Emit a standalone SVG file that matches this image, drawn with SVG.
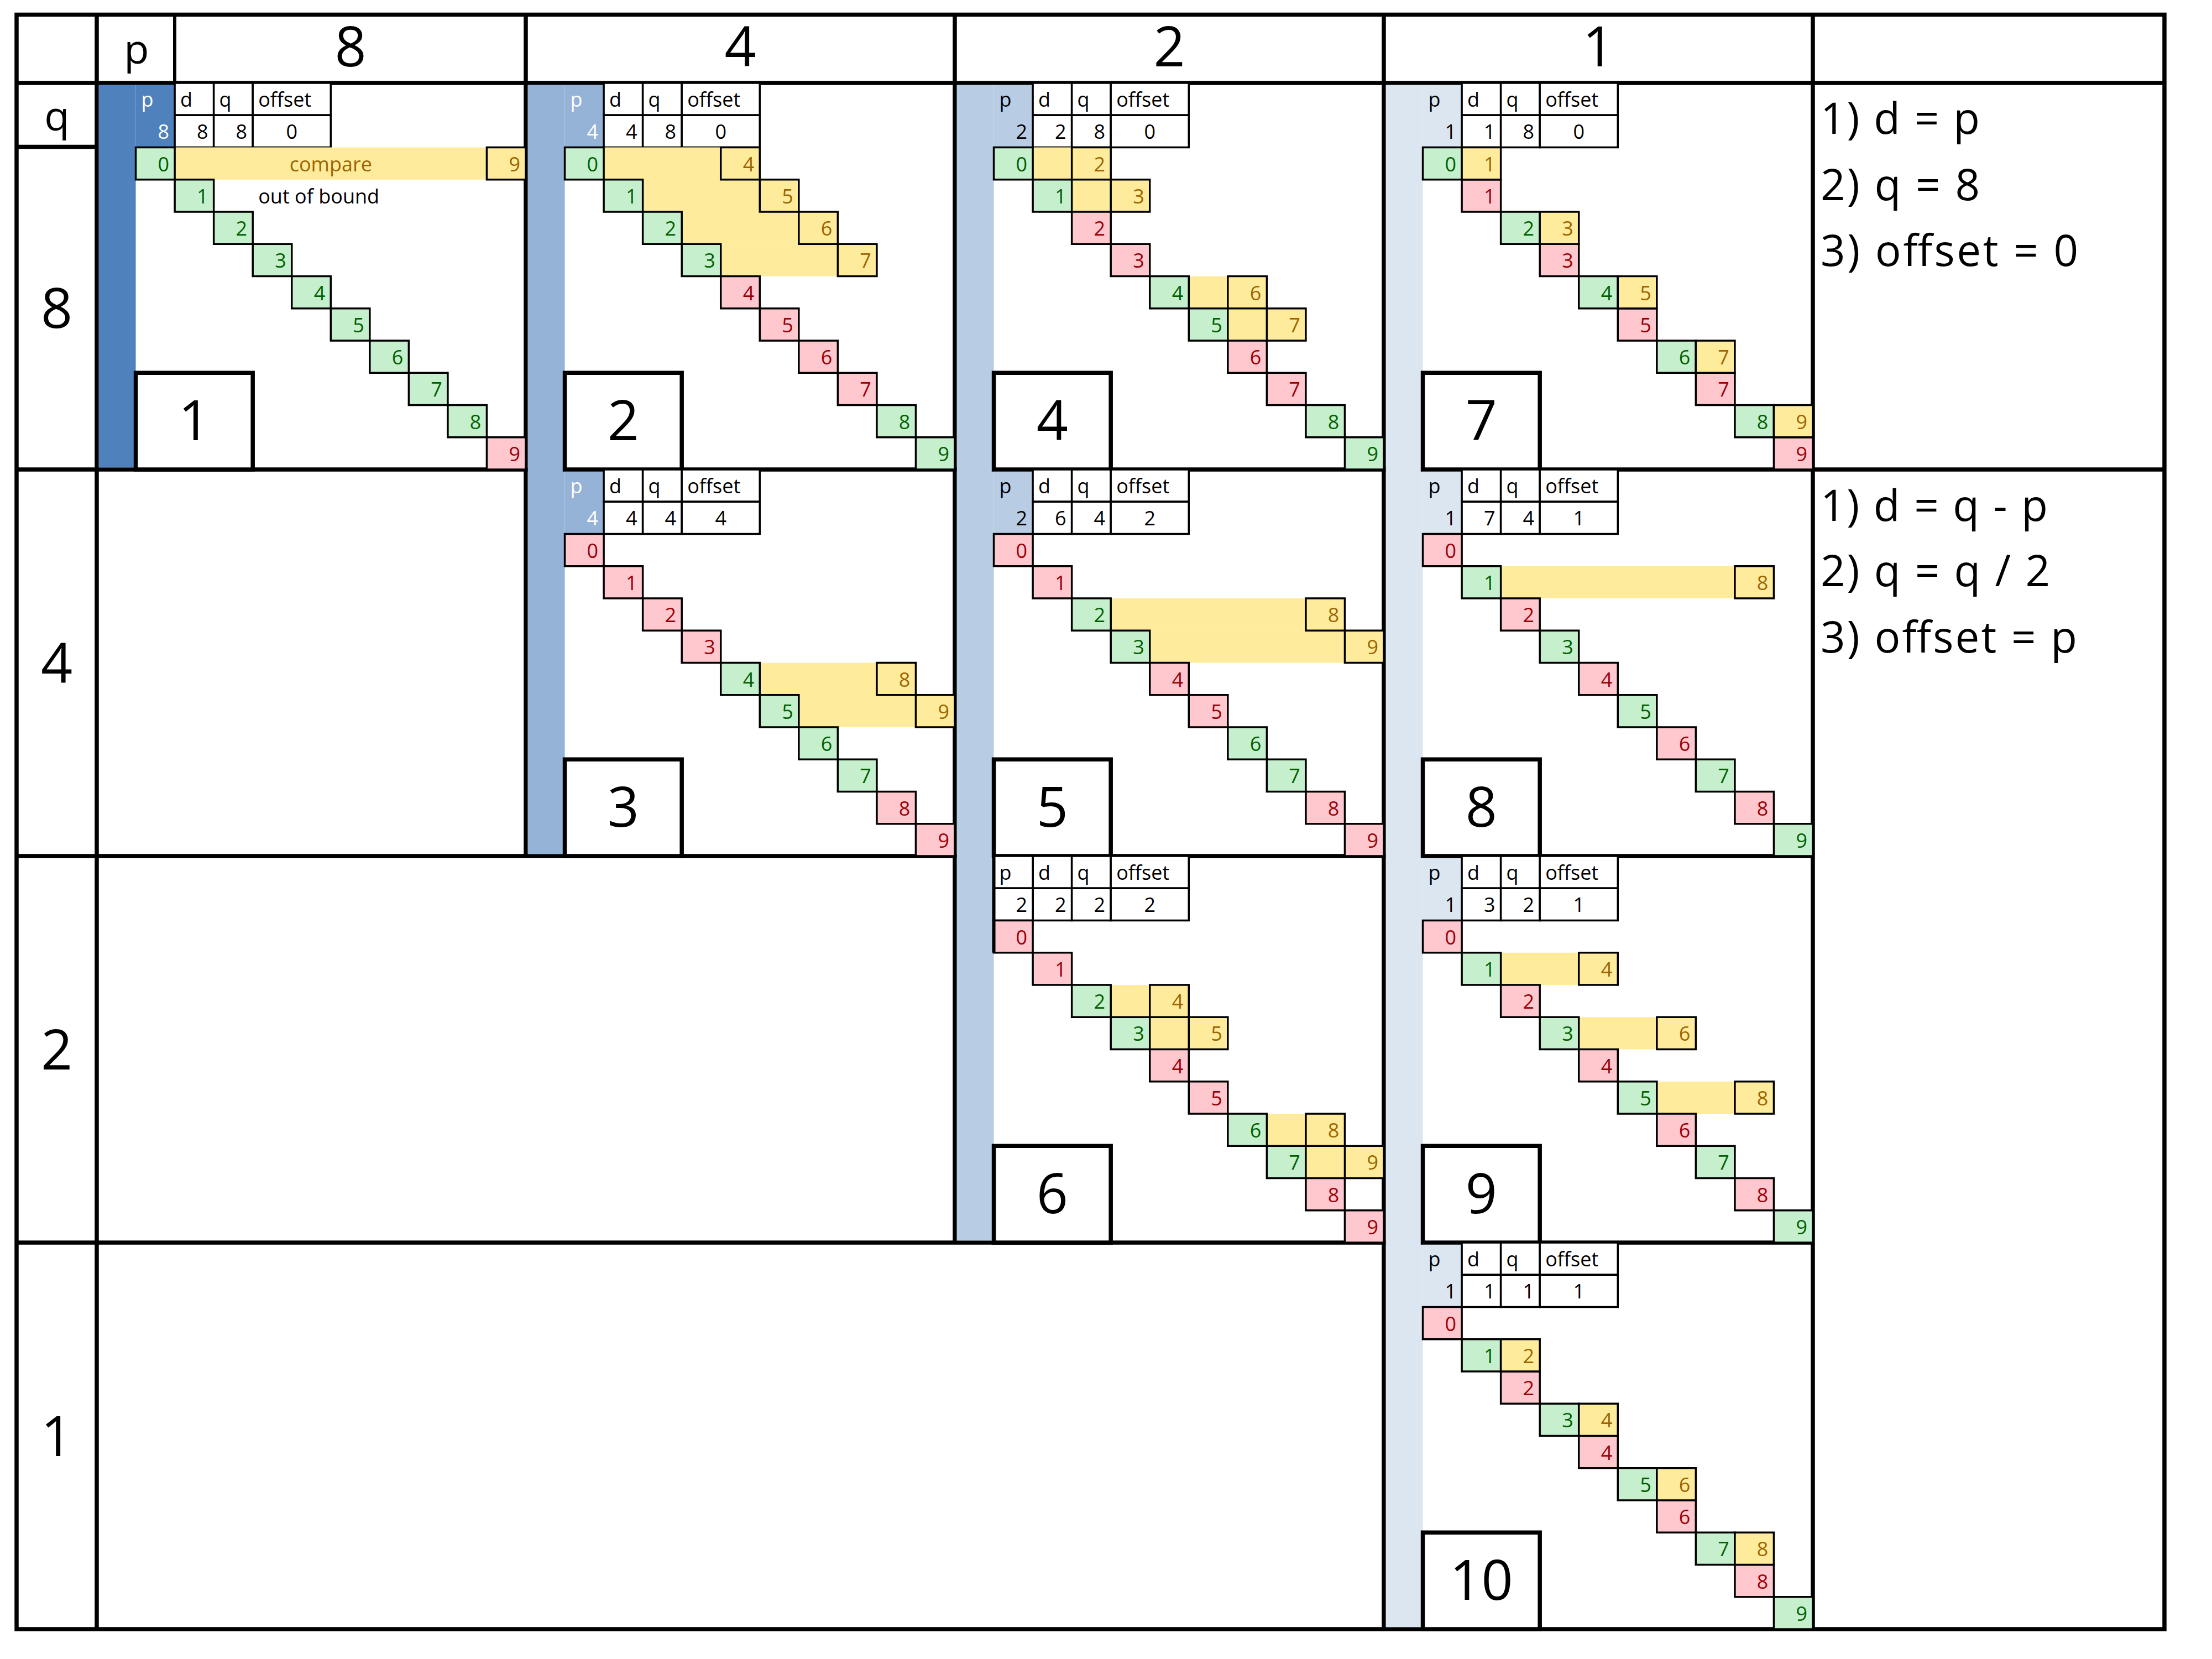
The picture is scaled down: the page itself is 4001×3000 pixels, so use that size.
<svg xmlns="http://www.w3.org/2000/svg" width="4001" height="3000" viewBox="0 0 4001 3000">
<style>
text{font-family:"Open Sans","Liberation Sans",sans-serif;font-size:36px;fill:#000}
.e{text-anchor:end}
.m{text-anchor:middle}
.big{font-size:100px}
.hl{font-size:74px}
.rule{font-size:78px}
.wt{fill:#fff}
.tg{fill:#006100}
.tr{fill:#9C0006}
.ty{fill:#9C6500}
.G{fill:#C6EFCE;stroke:#000;stroke-width:3.5}
.R{fill:#FFC7CE;stroke:#000;stroke-width:3.5}
.Y{fill:#FFEB9C;stroke:#000;stroke-width:3.5}
.yf{fill:#FFEB9C}
.W{fill:#fff;stroke:#000;stroke-width:3.5}
.lbl{fill:#fff;stroke:#000;stroke-width:7.5}
.grid{fill:none;stroke:#000;stroke-width:7.5;stroke-linecap:square}
</style>
<defs>
<g id="tbl">
<rect class="W" x="141.09" y="0" width="70.55" height="58.25"/>
<rect class="W" x="211.64" y="0" width="70.54" height="58.25"/>
<rect class="W" x="282.18" y="0" width="141.09" height="58.25"/>
<rect class="W" x="141.09" y="58.25" width="70.55" height="58.25"/>
<rect class="W" x="211.64" y="58.25" width="70.54" height="58.25"/>
<rect class="W" x="282.18" y="58.25" width="141.09" height="58.25"/>
<text x="151" y="43">d</text>
<text x="221.6" y="43">q</text>
<text x="292.2" y="43">offset</text>
</g>
<!-- staircase patterns -->
<g id="st1">
<rect class="G" x="70.55" y="116.5" width="70.55" height="58.25"/><text class="e tg" x="131.09" y="159.5">0</text>
<rect class="G" x="141.09" y="174.75" width="70.55" height="58.25"/><text class="e tg" x="201.64" y="217.75">1</text>
<rect class="G" x="211.64" y="233" width="70.55" height="58.25"/><text class="e tg" x="272.18" y="276">2</text>
<rect class="G" x="282.18" y="291.25" width="70.55" height="58.25"/><text class="e tg" x="342.73" y="334.25">3</text>
<rect class="G" x="352.73" y="349.5" width="70.55" height="58.25"/><text class="e tg" x="413.27" y="392.5">4</text>
<rect class="G" x="423.27" y="407.75" width="70.55" height="58.25"/><text class="e tg" x="483.82" y="450.75">5</text>
<rect class="G" x="493.82" y="466" width="70.55" height="58.25"/><text class="e tg" x="554.36" y="509">6</text>
<rect class="G" x="564.36" y="524.25" width="70.55" height="58.25"/><text class="e tg" x="624.91" y="567.25">7</text>
<rect class="G" x="634.91" y="582.5" width="70.55" height="58.25"/><text class="e tg" x="695.45" y="625.5">8</text>
<rect class="R" x="705.45" y="640.75" width="70.55" height="58.25"/><text class="e tr" x="766" y="683.75">9</text>
</g>
<g id="st2">
<rect class="G" x="70.55" y="116.5" width="70.55" height="58.25"/><text class="e tg" x="131.09" y="159.5">0</text>
<rect class="G" x="141.09" y="174.75" width="70.55" height="58.25"/><text class="e tg" x="201.64" y="217.75">1</text>
<rect class="G" x="211.64" y="233" width="70.55" height="58.25"/><text class="e tg" x="272.18" y="276">2</text>
<rect class="G" x="282.18" y="291.25" width="70.55" height="58.25"/><text class="e tg" x="342.73" y="334.25">3</text>
<rect class="R" x="352.73" y="349.5" width="70.55" height="58.25"/><text class="e tr" x="413.27" y="392.5">4</text>
<rect class="R" x="423.27" y="407.75" width="70.55" height="58.25"/><text class="e tr" x="483.82" y="450.75">5</text>
<rect class="R" x="493.82" y="466" width="70.55" height="58.25"/><text class="e tr" x="554.36" y="509">6</text>
<rect class="R" x="564.36" y="524.25" width="70.55" height="58.25"/><text class="e tr" x="624.91" y="567.25">7</text>
<rect class="G" x="634.91" y="582.5" width="70.55" height="58.25"/><text class="e tg" x="695.45" y="625.5">8</text>
<rect class="G" x="705.45" y="640.75" width="70.55" height="58.25"/><text class="e tg" x="766" y="683.75">9</text>
</g>
<g id="st4">
<rect class="G" x="70.55" y="116.5" width="70.55" height="58.25"/><text class="e tg" x="131.09" y="159.5">0</text>
<rect class="G" x="141.09" y="174.75" width="70.55" height="58.25"/><text class="e tg" x="201.64" y="217.75">1</text>
<rect class="R" x="211.64" y="233" width="70.55" height="58.25"/><text class="e tr" x="272.18" y="276">2</text>
<rect class="R" x="282.18" y="291.25" width="70.55" height="58.25"/><text class="e tr" x="342.73" y="334.25">3</text>
<rect class="G" x="352.73" y="349.5" width="70.55" height="58.25"/><text class="e tg" x="413.27" y="392.5">4</text>
<rect class="G" x="423.27" y="407.75" width="70.55" height="58.25"/><text class="e tg" x="483.82" y="450.75">5</text>
<rect class="R" x="493.82" y="466" width="70.55" height="58.25"/><text class="e tr" x="554.36" y="509">6</text>
<rect class="R" x="564.36" y="524.25" width="70.55" height="58.25"/><text class="e tr" x="624.91" y="567.25">7</text>
<rect class="G" x="634.91" y="582.5" width="70.55" height="58.25"/><text class="e tg" x="695.45" y="625.5">8</text>
<rect class="G" x="705.45" y="640.75" width="70.55" height="58.25"/><text class="e tg" x="766" y="683.75">9</text>
</g>
<g id="st7">
<rect class="G" x="70.55" y="116.5" width="70.55" height="58.25"/><text class="e tg" x="131.09" y="159.5">0</text>
<rect class="R" x="141.09" y="174.75" width="70.55" height="58.25"/><text class="e tr" x="201.64" y="217.75">1</text>
<rect class="G" x="211.64" y="233" width="70.55" height="58.25"/><text class="e tg" x="272.18" y="276">2</text>
<rect class="R" x="282.18" y="291.25" width="70.55" height="58.25"/><text class="e tr" x="342.73" y="334.25">3</text>
<rect class="G" x="352.73" y="349.5" width="70.55" height="58.25"/><text class="e tg" x="413.27" y="392.5">4</text>
<rect class="R" x="423.27" y="407.75" width="70.55" height="58.25"/><text class="e tr" x="483.82" y="450.75">5</text>
<rect class="G" x="493.82" y="466" width="70.55" height="58.25"/><text class="e tg" x="554.36" y="509">6</text>
<rect class="R" x="564.36" y="524.25" width="70.55" height="58.25"/><text class="e tr" x="624.91" y="567.25">7</text>
<rect class="G" x="634.91" y="582.5" width="70.55" height="58.25"/><text class="e tg" x="695.45" y="625.5">8</text>
<rect class="R" x="705.45" y="640.75" width="70.55" height="58.25"/><text class="e tr" x="766" y="683.75">9</text>
</g>
<g id="st3">
<rect class="R" x="70.55" y="116.5" width="70.55" height="58.25"/><text class="e tr" x="131.09" y="159.5">0</text>
<rect class="R" x="141.09" y="174.75" width="70.55" height="58.25"/><text class="e tr" x="201.64" y="217.75">1</text>
<rect class="R" x="211.64" y="233" width="70.55" height="58.25"/><text class="e tr" x="272.18" y="276">2</text>
<rect class="R" x="282.18" y="291.25" width="70.55" height="58.25"/><text class="e tr" x="342.73" y="334.25">3</text>
<rect class="G" x="352.73" y="349.5" width="70.55" height="58.25"/><text class="e tg" x="413.27" y="392.5">4</text>
<rect class="G" x="423.27" y="407.75" width="70.55" height="58.25"/><text class="e tg" x="483.82" y="450.75">5</text>
<rect class="G" x="493.82" y="466" width="70.55" height="58.25"/><text class="e tg" x="554.36" y="509">6</text>
<rect class="G" x="564.36" y="524.25" width="70.55" height="58.25"/><text class="e tg" x="624.91" y="567.25">7</text>
<rect class="R" x="634.91" y="582.5" width="70.55" height="58.25"/><text class="e tr" x="695.45" y="625.5">8</text>
<rect class="R" x="705.45" y="640.75" width="70.55" height="58.25"/><text class="e tr" x="766" y="683.75">9</text>
</g>
<g id="st56">
<rect class="R" x="70.55" y="116.5" width="70.55" height="58.25"/><text class="e tr" x="131.09" y="159.5">0</text>
<rect class="R" x="141.09" y="174.75" width="70.55" height="58.25"/><text class="e tr" x="201.64" y="217.75">1</text>
<rect class="G" x="211.64" y="233" width="70.55" height="58.25"/><text class="e tg" x="272.18" y="276">2</text>
<rect class="G" x="282.18" y="291.25" width="70.55" height="58.25"/><text class="e tg" x="342.73" y="334.25">3</text>
<rect class="R" x="352.73" y="349.5" width="70.55" height="58.25"/><text class="e tr" x="413.27" y="392.5">4</text>
<rect class="R" x="423.27" y="407.75" width="70.55" height="58.25"/><text class="e tr" x="483.82" y="450.75">5</text>
<rect class="G" x="493.82" y="466" width="70.55" height="58.25"/><text class="e tg" x="554.36" y="509">6</text>
<rect class="G" x="564.36" y="524.25" width="70.55" height="58.25"/><text class="e tg" x="624.91" y="567.25">7</text>
<rect class="R" x="634.91" y="582.5" width="70.55" height="58.25"/><text class="e tr" x="695.45" y="625.5">8</text>
<rect class="R" x="705.45" y="640.75" width="70.55" height="58.25"/><text class="e tr" x="766" y="683.75">9</text>
</g>
<g id="st8">
<rect class="R" x="70.55" y="116.5" width="70.55" height="58.25"/><text class="e tr" x="131.09" y="159.5">0</text>
<rect class="G" x="141.09" y="174.75" width="70.55" height="58.25"/><text class="e tg" x="201.64" y="217.75">1</text>
<rect class="R" x="211.64" y="233" width="70.55" height="58.25"/><text class="e tr" x="272.18" y="276">2</text>
<rect class="G" x="282.18" y="291.25" width="70.55" height="58.25"/><text class="e tg" x="342.73" y="334.25">3</text>
<rect class="R" x="352.73" y="349.5" width="70.55" height="58.25"/><text class="e tr" x="413.27" y="392.5">4</text>
<rect class="G" x="423.27" y="407.75" width="70.55" height="58.25"/><text class="e tg" x="483.82" y="450.75">5</text>
<rect class="R" x="493.82" y="466" width="70.55" height="58.25"/><text class="e tr" x="554.36" y="509">6</text>
<rect class="G" x="564.36" y="524.25" width="70.55" height="58.25"/><text class="e tg" x="624.91" y="567.25">7</text>
<rect class="R" x="634.91" y="582.5" width="70.55" height="58.25"/><text class="e tr" x="695.45" y="625.5">8</text>
<rect class="G" x="705.45" y="640.75" width="70.55" height="58.25"/><text class="e tg" x="766" y="683.75">9</text>
</g>
</defs>

<rect width="4001" height="3000" fill="#fff"/>

<g id="grid">
<path class="grid" d="M30 26.5H3915M30 150H3915M30 265.5H175M30 849H3915M30 1548H3279M30 2247H3279M30 2946H3915M30 26.5V2946M175 26.5V2946M951 26.5V1548M1727 26.5V2247M2503 26.5V2946M3279 26.5V2946M3915 26.5V2946"/>
<path d="M316 26.5V150" stroke="#000" stroke-width="6"/>
</g>

<g id="headers">
<text class="hl m" x="247" y="115">p</text>
<text class="big m" x="634" y="120">8</text>
<text class="big m" x="1339" y="120">4</text>
<text class="big m" x="2115" y="120">2</text>
<text class="big m" x="2891" y="120">1</text>
<text class="hl m" x="103" y="236">q</text>
<text class="big m" x="102.5" y="593">8</text>
<text class="big m" x="102.5" y="1234.5">4</text>
<text class="big m" x="102.5" y="1933.5">2</text>
<text class="big m" x="102.5" y="2632.5">1</text>
</g>

<g id="bars">
<rect x="178.75" y="153.75" width="66.8" height="691.5" fill="#4F81BD"/>
<rect x="954.75" y="153.75" width="66.8" height="1390.5" fill="#95B3D7"/>
<rect x="1730.75" y="153.75" width="66.8" height="2089.5" fill="#B8CCE4"/>
<rect x="2506.75" y="153.75" width="66.8" height="2788.5" fill="#DCE6F1"/>
</g>

<g id="block-1" transform="translate(175,150)">
<rect x="70.55" y="3.75" width="70.54" height="112.75" fill="#4F81BD"/>
<use href="#tbl"/>
<text class="wt" x="80.5" y="43">p</text>
<text class="e wt" x="131" y="101.25">8</text>
<text class="e" x="201.6" y="101.25">8</text>
<text class="e" x="272.2" y="101.25">8</text>
<text class="m" x="352.73" y="101.25">0</text>
<rect class="yf" x="141.09" y="116.5" width="564.36" height="58.25"/>
<use href="#st1"/>
<rect class="Y" x="705.45" y="116.5" width="70.55" height="58.25"/><text class="e ty" x="766" y="159.5">9</text>
<text class="m ty" x="423.27" y="159.5">compare</text>
<text x="292.2" y="217.75">out of bound</text>
<rect class="lbl" x="70.55" y="524.25" width="211.63" height="174.75"/>
<text class="big m" x="176.4" y="646">1</text>
</g>

<g id="block-2" transform="translate(951,150)">
<rect x="70.55" y="3.75" width="70.54" height="112.75" fill="#95B3D7"/>
<use href="#tbl"/>
<text class="wt" x="80.5" y="43">p</text>
<text class="e wt" x="131" y="101.25">4</text>
<text class="e" x="201.6" y="101.25">4</text>
<text class="e" x="272.2" y="101.25">8</text>
<text class="m" x="352.73" y="101.25">0</text>
<rect class="yf" x="141.09" y="116.5" width="211.64" height="58.75"/>
<rect class="yf" x="211.64" y="174.75" width="211.63" height="58.75"/>
<rect class="yf" x="282.18" y="233" width="211.64" height="58.75"/>
<rect class="yf" x="352.73" y="291.25" width="211.63" height="58.25"/>
<use href="#st2"/>
<rect class="Y" x="352.73" y="116.5" width="70.55" height="58.25"/><text class="e ty" x="413.27" y="159.5">4</text>
<rect class="Y" x="423.27" y="174.75" width="70.55" height="58.25"/><text class="e ty" x="483.82" y="217.75">5</text>
<rect class="Y" x="493.82" y="233" width="70.55" height="58.25"/><text class="e ty" x="554.36" y="276">6</text>
<rect class="Y" x="564.36" y="291.25" width="70.55" height="58.25"/><text class="e ty" x="624.91" y="334.25">7</text>
<rect class="lbl" x="70.55" y="524.25" width="211.63" height="174.75"/>
<text class="big m" x="176.4" y="646">2</text>
</g>

<g id="block-4" transform="translate(1727,150)">
<rect x="70.55" y="3.75" width="70.54" height="112.75" fill="#B8CCE4"/>
<use href="#tbl"/>
<text x="80.5" y="43">p</text>
<text class="e" x="131" y="101.25">2</text>
<text class="e" x="201.6" y="101.25">2</text>
<text class="e" x="272.2" y="101.25">8</text>
<text class="m" x="352.73" y="101.25">0</text>
<rect class="yf" x="141.09" y="116.5" width="70.55" height="58.75"/>
<rect class="yf" x="211.64" y="174.75" width="70.54" height="58.25"/>
<rect class="yf" x="423.27" y="349.5" width="70.55" height="58.75"/>
<rect class="yf" x="493.82" y="407.75" width="70.54" height="58.25"/>
<use href="#st4"/>
<rect class="Y" x="211.64" y="116.5" width="70.55" height="58.25"/><text class="e ty" x="272.18" y="159.5">2</text>
<rect class="Y" x="282.18" y="174.75" width="70.55" height="58.25"/><text class="e ty" x="342.73" y="217.75">3</text>
<rect class="Y" x="493.82" y="349.5" width="70.55" height="58.25"/><text class="e ty" x="554.36" y="392.5">6</text>
<rect class="Y" x="564.36" y="407.75" width="70.55" height="58.25"/><text class="e ty" x="624.91" y="450.75">7</text>
<rect class="lbl" x="70.55" y="524.25" width="211.63" height="174.75"/>
<text class="big m" x="176.4" y="646">4</text>
</g>

<g id="block-7" transform="translate(2503,150)">
<rect x="70.55" y="3.75" width="70.54" height="112.75" fill="#DCE6F1"/>
<use href="#tbl"/>
<text x="80.5" y="43">p</text>
<text class="e" x="131" y="101.25">1</text>
<text class="e" x="201.6" y="101.25">1</text>
<text class="e" x="272.2" y="101.25">8</text>
<text class="m" x="352.73" y="101.25">0</text>
<use href="#st7"/>
<rect class="Y" x="141.09" y="116.5" width="70.55" height="58.25"/><text class="e ty" x="201.64" y="159.5">1</text>
<rect class="Y" x="282.18" y="233" width="70.55" height="58.25"/><text class="e ty" x="342.73" y="276">3</text>
<rect class="Y" x="423.27" y="349.5" width="70.55" height="58.25"/><text class="e ty" x="483.82" y="392.5">5</text>
<rect class="Y" x="564.36" y="466" width="70.55" height="58.25"/><text class="e ty" x="624.91" y="509">7</text>
<rect class="Y" x="705.45" y="582.5" width="70.55" height="58.25"/><text class="e ty" x="766" y="625.5">9</text>
<rect class="lbl" x="70.55" y="524.25" width="211.63" height="174.75"/>
<text class="big m" x="176.4" y="646">7</text>
</g>

<g id="block-3" transform="translate(951,849)">
<rect x="70.55" y="3.75" width="70.54" height="112.75" fill="#95B3D7"/>
<use href="#tbl"/>
<text class="wt" x="80.5" y="43">p</text>
<text class="e wt" x="131" y="101.25">4</text>
<text class="e" x="201.6" y="101.25">4</text>
<text class="e" x="272.2" y="101.25">4</text>
<text class="m" x="352.73" y="101.25">4</text>
<rect class="yf" x="423.27" y="349.5" width="211.64" height="58.75"/>
<rect class="yf" x="493.82" y="407.75" width="211.63" height="58.25"/>
<use href="#st3"/>
<rect class="Y" x="634.91" y="349.5" width="70.55" height="58.25"/><text class="e ty" x="695.45" y="392.5">8</text>
<rect class="Y" x="705.45" y="407.75" width="70.55" height="58.25"/><text class="e ty" x="766" y="450.75">9</text>
<rect class="lbl" x="70.55" y="524.25" width="211.63" height="174.75"/>
<text class="big m" x="176.4" y="646">3</text>
</g>

<g id="block-5" transform="translate(1727,849)">
<rect x="70.55" y="3.75" width="70.54" height="112.75" fill="#B8CCE4"/>
<use href="#tbl"/>
<text x="80.5" y="43">p</text>
<text class="e" x="131" y="101.25">2</text>
<text class="e" x="201.6" y="101.25">6</text>
<text class="e" x="272.2" y="101.25">4</text>
<text class="m" x="352.73" y="101.25">2</text>
<rect class="yf" x="282.18" y="233" width="352.73" height="58.75"/>
<rect class="yf" x="352.73" y="291.25" width="352.72" height="58.25"/>
<use href="#st56"/>
<rect class="Y" x="634.91" y="233" width="70.55" height="58.25"/><text class="e ty" x="695.45" y="276">8</text>
<rect class="Y" x="705.45" y="291.25" width="70.55" height="58.25"/><text class="e ty" x="766" y="334.25">9</text>
<rect class="lbl" x="70.55" y="524.25" width="211.63" height="174.75"/>
<text class="big m" x="176.4" y="646">5</text>
</g>

<g id="block-8" transform="translate(2503,849)">
<rect x="70.55" y="3.75" width="70.54" height="112.75" fill="#DCE6F1"/>
<use href="#tbl"/>
<text x="80.5" y="43">p</text>
<text class="e" x="131" y="101.25">1</text>
<text class="e" x="201.6" y="101.25">7</text>
<text class="e" x="272.2" y="101.25">4</text>
<text class="m" x="352.73" y="101.25">1</text>
<rect class="yf" x="211.64" y="174.75" width="423.27" height="58.25"/>
<use href="#st8"/>
<rect class="Y" x="634.91" y="174.75" width="70.55" height="58.25"/><text class="e ty" x="695.45" y="217.75">8</text>
<rect class="lbl" x="70.55" y="524.25" width="211.63" height="174.75"/>
<text class="big m" x="176.4" y="646">8</text>
</g>

<g id="block-6" transform="translate(1727,1548)">
<use href="#tbl"/>
<rect class="W" x="70.55" y="0" width="70.54" height="58.25"/>
<rect class="W" x="70.55" y="58.25" width="70.54" height="58.25"/>
<text x="80.5" y="43">p</text>
<text class="e" x="131" y="101.25">2</text>
<text class="e" x="201.6" y="101.25">2</text>
<text class="e" x="272.2" y="101.25">2</text>
<text class="m" x="352.73" y="101.25">2</text>
<rect class="yf" x="282.18" y="233" width="70.55" height="58.75"/>
<rect class="yf" x="352.73" y="291.25" width="70.54" height="58.25"/>
<rect class="yf" x="564.36" y="466" width="70.55" height="58.75"/>
<rect class="yf" x="634.91" y="524.25" width="70.54" height="58.25"/>
<use href="#st56"/>
<path d="M70.55 0V174.75" stroke="#000" stroke-width="6"/>
<rect class="Y" x="352.73" y="233" width="70.55" height="58.25"/><text class="e ty" x="413.27" y="276">4</text>
<rect class="Y" x="423.27" y="291.25" width="70.55" height="58.25"/><text class="e ty" x="483.82" y="334.25">5</text>
<rect class="Y" x="634.91" y="466" width="70.55" height="58.25"/><text class="e ty" x="695.45" y="509">8</text>
<rect class="Y" x="705.45" y="524.25" width="70.55" height="58.25"/><text class="e ty" x="766" y="567.25">9</text>
<rect class="lbl" x="70.55" y="524.25" width="211.63" height="174.75"/>
<text class="big m" x="176.4" y="646">6</text>
</g>

<g id="block-9" transform="translate(2503,1548)">
<rect x="70.55" y="3.75" width="70.54" height="112.75" fill="#DCE6F1"/>
<use href="#tbl"/>
<text x="80.5" y="43">p</text>
<text class="e" x="131" y="101.25">1</text>
<text class="e" x="201.6" y="101.25">3</text>
<text class="e" x="272.2" y="101.25">2</text>
<text class="m" x="352.73" y="101.25">1</text>
<rect class="yf" x="211.64" y="174.75" width="141.09" height="58.25"/>
<rect class="yf" x="352.73" y="291.25" width="141.09" height="58.25"/>
<rect class="yf" x="493.82" y="407.75" width="141.09" height="58.25"/>
<use href="#st8"/>
<rect class="Y" x="352.73" y="174.75" width="70.55" height="58.25"/><text class="e ty" x="413.27" y="217.75">4</text>
<rect class="Y" x="493.82" y="291.25" width="70.55" height="58.25"/><text class="e ty" x="554.36" y="334.25">6</text>
<rect class="Y" x="634.91" y="407.75" width="70.55" height="58.25"/><text class="e ty" x="695.45" y="450.75">8</text>
<rect class="lbl" x="70.55" y="524.25" width="211.63" height="174.75"/>
<text class="big m" x="176.4" y="646">9</text>
</g>

<g id="block-10" transform="translate(2503,2247)">
<rect x="70.55" y="3.75" width="70.54" height="112.75" fill="#DCE6F1"/>
<use href="#tbl"/>
<text x="80.5" y="43">p</text>
<text class="e" x="131" y="101.25">1</text>
<text class="e" x="201.6" y="101.25">1</text>
<text class="e" x="272.2" y="101.25">1</text>
<text class="m" x="352.73" y="101.25">1</text>
<use href="#st8"/>
<rect class="Y" x="211.64" y="174.75" width="70.55" height="58.25"/><text class="e ty" x="272.18" y="217.75">2</text>
<rect class="Y" x="352.73" y="291.25" width="70.55" height="58.25"/><text class="e ty" x="413.27" y="334.25">4</text>
<rect class="Y" x="493.82" y="407.75" width="70.55" height="58.25"/><text class="e ty" x="554.36" y="450.75">6</text>
<rect class="Y" x="634.91" y="524.25" width="70.55" height="58.25"/><text class="e ty" x="695.45" y="567.25">8</text>
<rect class="lbl" x="70.55" y="524.25" width="211.63" height="174.75"/>
<text class="big m" x="176.4" y="646">10</text>
</g>

<g id="rules">
<text class="rule" x="3293" y="242" textLength="288">1) d = p</text>
<text class="rule" x="3293" y="362" textLength="288">2) q = 8</text>
<text class="rule" x="3293" y="481" textLength="466">3) offset = 0</text>
<text class="rule" x="3293" y="942" textLength="411">1) d = q - p</text>
<text class="rule" x="3293" y="1060" textLength="415">2) q = q / 2</text>
<text class="rule" x="3293" y="1180" textLength="464">3) offset = p</text>
</g>
</svg>
